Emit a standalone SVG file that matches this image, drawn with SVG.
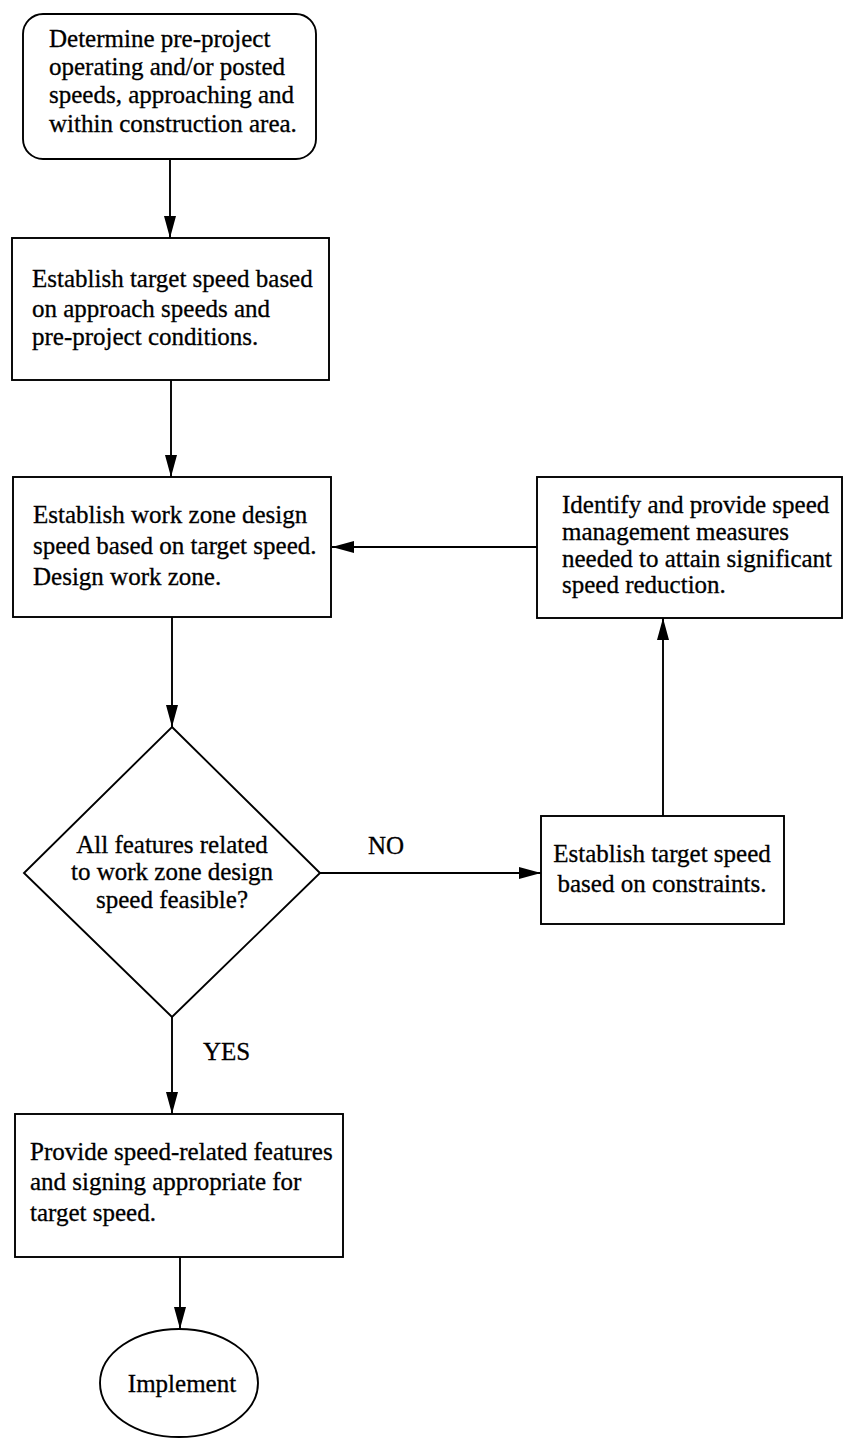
<svg xmlns="http://www.w3.org/2000/svg" width="843" height="1440" viewBox="0 0 843 1440">
<style>
.n{fill:#fff;stroke:#000;stroke-width:1.9}
.t{font-family:"Liberation Serif","Times New Roman",serif;font-size:25px;fill:#000;stroke:#000;stroke-width:0.3}
.c{text-anchor:middle}
.e{fill:none;stroke:#000;stroke-width:1.9}
</style>
<defs>
<marker id="ah" markerUnits="userSpaceOnUse" markerWidth="22" markerHeight="12" viewBox="0 0 22 12" refX="22" refY="6" orient="auto">
<path d="M0,0 L22,6 L0,12 Z" fill="#000"/>
</marker>
</defs>
<rect width="843" height="1440" fill="#fff"/>
<g id="connectors">
<line class="e" x1="170" y1="159" x2="170" y2="238" marker-end="url(#ah)"/>
<line class="e" x1="171" y1="380" x2="171" y2="477" marker-end="url(#ah)"/>
<line class="e" x1="172" y1="617" x2="172" y2="727" marker-end="url(#ah)"/>
<line class="e" x1="537" y1="547" x2="332" y2="547" marker-end="url(#ah)"/>
<line class="e" x1="320" y1="873" x2="541" y2="873" marker-end="url(#ah)"/>
<line class="e" x1="663" y1="816" x2="663" y2="618" marker-end="url(#ah)"/>
<line class="e" x1="172" y1="1017" x2="172" y2="1114" marker-end="url(#ah)"/>
<line class="e" x1="180" y1="1257" x2="180" y2="1329" marker-end="url(#ah)"/>
<text class="t" x="368" y="854">NO</text>
<text class="t" x="203" y="1060">YES</text>
</g>
<g id="start">
<rect class="n" x="23" y="14" width="293" height="145" rx="20" ry="20"/>
<text class="t" x="49" y="47">Determine pre-project</text>
<text class="t" x="49" y="75">operating and/or posted</text>
<text class="t" x="49" y="103">speeds, approaching and</text>
<text class="t" x="49" y="132">within construction area.</text>
</g>
<g id="target">
<rect class="n" x="12" y="238" width="317" height="142"/>
<text class="t" x="32" y="287">Establish target speed based</text>
<text class="t" x="32" y="317">on approach speeds and</text>
<text class="t" x="32" y="345">pre-project conditions.</text>
</g>
<g id="design">
<rect class="n" x="13" y="477" width="318" height="140"/>
<text class="t" x="33" y="523">Establish work zone design</text>
<text class="t" x="33" y="554">speed based on target speed.</text>
<text class="t" x="33" y="585">Design work zone.</text>
</g>
<g id="measures">
<rect class="n" x="537" y="477" width="305" height="141"/>
<text class="t" x="562" y="513">Identify and provide speed</text>
<text class="t" x="562" y="540">management measures</text>
<text class="t" x="562" y="567">needed to attain significant</text>
<text class="t" x="562" y="593">speed reduction.</text>
</g>
<g id="decision">
<polygon class="n" points="172,727 320,873 172,1017 24,873"/>
<text class="t c" x="172" y="853">All features related</text>
<text class="t c" x="172" y="880">to work zone design</text>
<text class="t c" x="172" y="908">speed feasible?</text>
</g>
<g id="constraints">
<rect class="n" x="541" y="816" width="243" height="108"/>
<text class="t c" x="662" y="862">Establish target speed</text>
<text class="t c" x="662" y="892">based on constraints.</text>
</g>
<g id="provide">
<rect class="n" x="15" y="1114" width="328" height="143"/>
<text class="t" x="30" y="1160">Provide speed-related features</text>
<text class="t" x="30" y="1190">and signing appropriate for</text>
<text class="t" x="30" y="1221">target speed.</text>
</g>
<g id="implement">
<ellipse class="n" cx="179" cy="1383" rx="79" ry="54"/>
<text class="t c" x="182" y="1392">Implement</text>
</g>
</svg>
